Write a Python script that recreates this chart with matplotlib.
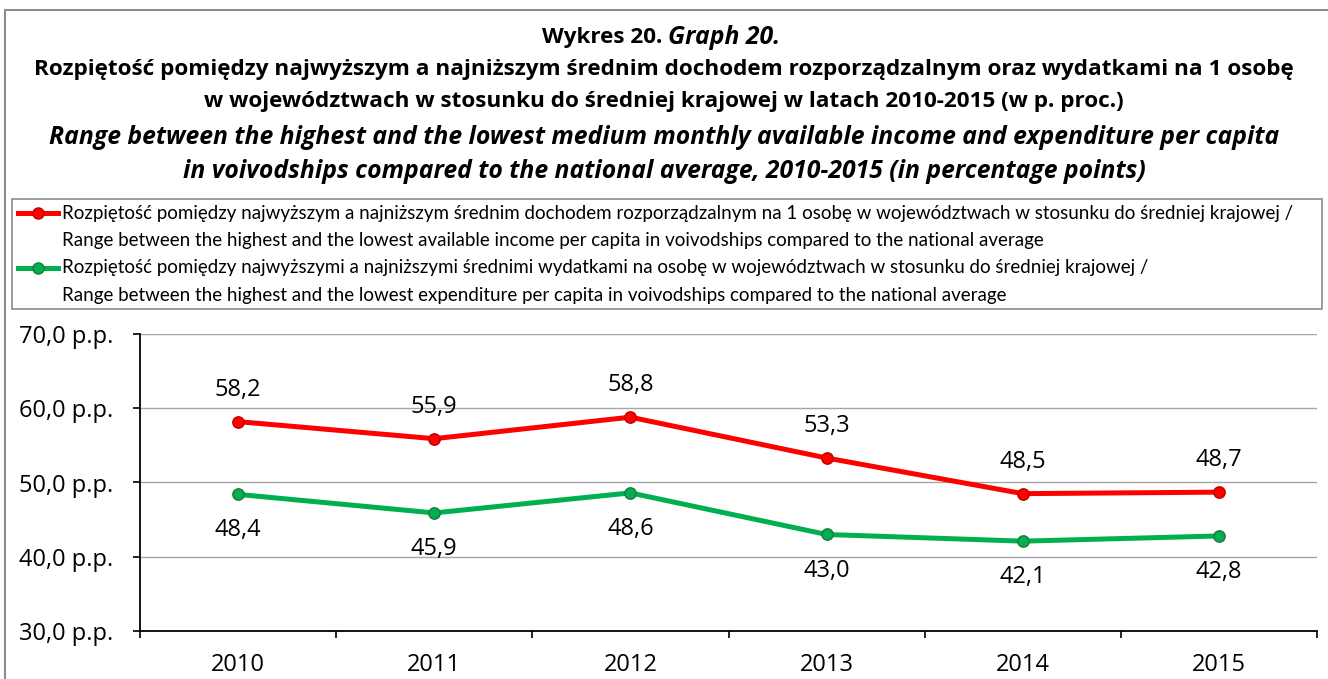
import matplotlib
matplotlib.use("Agg")
import matplotlib.pyplot as plt
from matplotlib.patches import Rectangle
from matplotlib.lines import Line2D
from matplotlib.ticker import FixedLocator

years = ["2010", "2011", "2012", "2013", "2014", "2015"]
income = [58.2, 55.9, 58.8, 53.3, 48.5, 48.7]
expend = [48.4, 45.9, 48.6, 43.0, 42.1, 42.8]
yticks = [30, 40, 50, 60, 70]

title_lines = [
    ("Wykres 20. ", "Graph 20."),
    "Rozpiętość pomiędzy najwyższym a najniższym średnim dochodem rozporządzalnym oraz wydatkami na 1 osobę",
    "w województwach w stosunku do średniej krajowej w latach 2010-2015 (w p. proc.)",
    "Range between the highest and the lowest medium monthly available income and expenditure per capita",
    "in voivodships compared to the national average, 2010-2015 (in percentage points)",
]
legend_text = [
    "Rozpiętość pomiędzy najwyższym a najniższym średnim dochodem rozporządzalnym na 1 osobę w województwach w stosunku do średniej krajowej /",
    "Range between the highest and the lowest available income per capita in voivodships compared to the national average",
    "Rozpiętość pomiędzy najwyższymi a najniższymi średnimi wydatkami na osobę w województwach w stosunku do średniej krajowej /",
    "Range between the highest and the lowest expenditure per capita in voivodships compared to the national average",
]

RED, RED_EDGE = "#ff0000", "#c00000"
GREEN, GREEN_EDGE = "#00b050", "#1f7a3a"
FONT = ["Open Sans", "DejaVu Sans"]
LEG_FONT = ["Lato", "DejaVu Sans"]

plt.rcParams["font.family"] = FONT
W, H = 1328, 679
fig = plt.figure(figsize=(W / 100, H / 100), dpi=100)

def fx(px):
    return px / W

def fy(py):
    return 1 - py / H

def fmt(v):
    return f"{v:.1f}".replace(".", ",")

# outer frame
fig.patches.append(Rectangle((fx(5), fy(700)), fx(1400), fy(10) - fy(700),
                             transform=fig.transFigure, fill=False,
                             edgecolor="#8c8c8c", lw=1.5))

# title
TS, TSI = 16.2, 17.8
fig.text(fx(668), fy(37), title_lines[0][0], ha="right", va="center",
         fontsize=TS, fontweight="bold")
fig.text(fx(668), fy(37), title_lines[0][1], ha="left", va="center",
         fontsize=TSI, fontweight="bold", style="italic")
for i, ypx in zip(range(1, 5), [70, 102, 137, 171]):
    italic = i >= 3
    fig.text(fx(664), fy(ypx), title_lines[i], ha="center", va="center",
             fontsize=TSI if italic else TS, fontweight="bold",
             style="italic" if italic else "normal")

# legend box
fig.patches.append(Rectangle((fx(12), fy(309)), fx(1310), fy(199) - fy(309),
                             transform=fig.transFigure, fill=False,
                             edgecolor="#8c8c8c", lw=1.2))
for ypx, col, ec in [(213, RED, RED_EDGE), (268, GREEN, GREEN_EDGE)]:
    fig.lines.append(Line2D([fx(18), fx(58)], [fy(ypx), fy(ypx)],
                            transform=fig.transFigure, color=col, lw=3.6))
    fig.lines.append(Line2D([fx(38)], [fy(ypx)], transform=fig.transFigure,
                            color=col, marker="o", ms=8, mec=ec, mew=1))
for t, ypx in zip(legend_text, [213, 240, 268, 295]):
    fig.text(fx(62), fy(ypx), t, ha="left", va="center", fontsize=13.5,
             family=LEG_FONT)

# plot
ax = fig.add_axes([fx(140), fy(631), fx(1317) - fx(140), fy(334) - fy(631)])
x = list(range(len(years)))
ax.plot(x, income, color=RED, lw=3.6, marker="o", ms=8.2, mfc=RED,
        mec=RED_EDGE, mew=1, zorder=3)
ax.plot(x, expend, color=GREEN, lw=3.6, marker="o", ms=8.2, mfc=GREEN,
        mec=GREEN_EDGE, mew=1, zorder=3)
for xi, v in zip(x, income):
    ax.annotate(fmt(v), (xi, v), xytext=(0, 23), textcoords="offset points",
                ha="center", va="center", fontsize=17)
for xi, v in zip(x, expend):
    ax.annotate(fmt(v), (xi, v), xytext=(0, -26), textcoords="offset points",
                ha="center", va="center", fontsize=17)

ax.set_xlim(-0.5, len(years) - 0.5)
ax.set_ylim(30, 70)
ax.set_yticks(yticks)
ax.set_yticklabels([fmt(v) + " p.p." for v in yticks], fontsize=17)
ax.set_xticks(x)
ax.set_xticklabels(years, fontsize=17)
ax.xaxis.set_minor_locator(FixedLocator([i - 0.5 for i in range(len(years) + 1)]))
ax.tick_params(axis="x", which="major", length=0, pad=16)
ax.tick_params(axis="x", which="minor", length=5, width=1.2, direction="out")
ax.tick_params(axis="y", length=5, width=1.2, pad=14)
ax.grid(axis="y", color="#a6a6a6", lw=1)
ax.set_axisbelow(True)
for s in ["top", "right"]:
    ax.spines[s].set_visible(False)
for s in ["left", "bottom"]:
    ax.spines[s].set_linewidth(1.3)

fig.savefig("out.png", dpi=100)
